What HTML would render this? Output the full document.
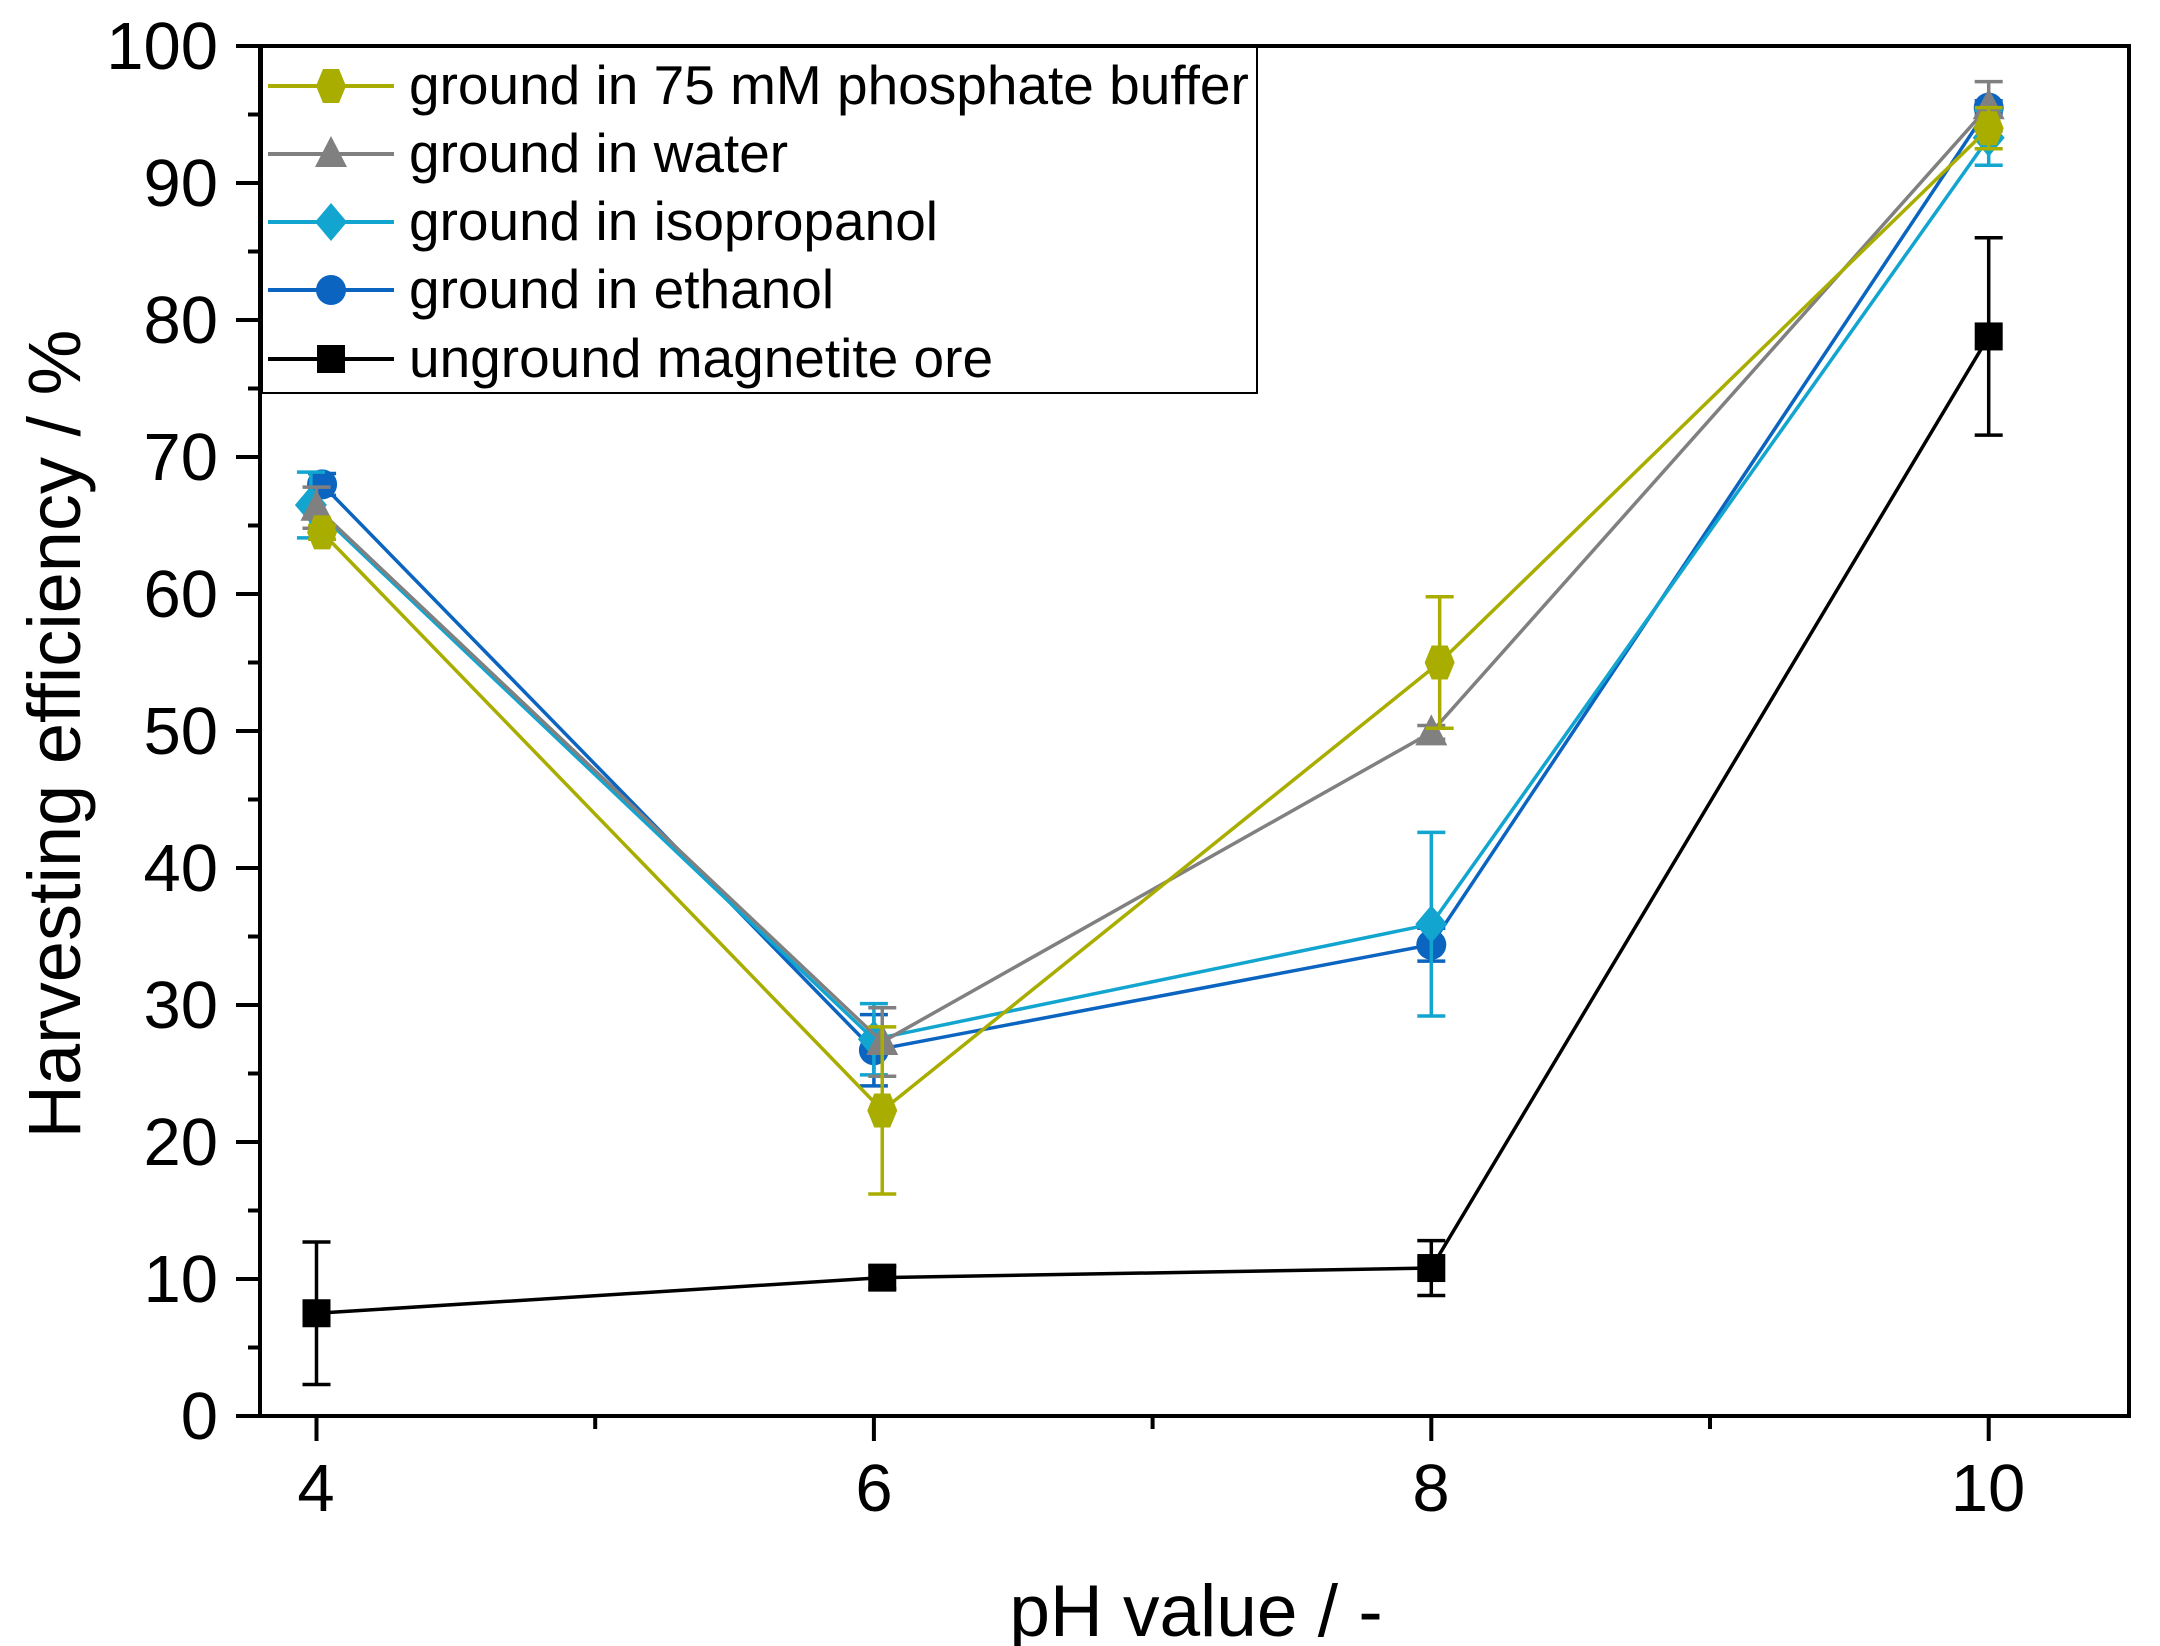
<!DOCTYPE html>
<html><head><meta charset="utf-8"><style>
html,body{margin:0;padding:0;background:#fff;}
svg{display:block;font-family:"Liberation Sans",Arial,sans-serif;}
</style></head><body>
<svg id="s" width="2160" height="1646" viewBox="0 0 2160 1646" xmlns="http://www.w3.org/2000/svg">
<rect width="2160" height="1646" fill="#fff"/>
<g id="plot"></g>
<g font-size="67" fill="#000" text-anchor="end">
<text x="218" y="1439">0</text>
<text x="218" y="1302">10</text>
<text x="218" y="1165">20</text>
<text x="218" y="1028">30</text>
<text x="218" y="891">40</text>
<text x="218" y="754">50</text>
<text x="218" y="617">60</text>
<text x="218" y="480">70</text>
<text x="218" y="343">80</text>
<text x="218" y="206">90</text>
<text x="218" y="69">100</text>
</g>
<g font-size="67" fill="#000" text-anchor="middle">
<text x="316" y="1511">4</text>
<text x="874" y="1511">6</text>
<text x="1431" y="1511">8</text>
<text x="1988" y="1511">10</text>
</g>
<text x="1196" y="1636" font-size="73" text-anchor="middle">pH value / -</text>
<text transform="translate(80,734) rotate(-90)" font-size="74" text-anchor="middle">Harvesting efficiency / %</text>
<rect x="262" y="46" width="995" height="347" fill="#fff" stroke="#000" stroke-width="2"/>
<g id="leg"></g>
<g font-size="55" fill="#000">
<text x="409" y="104">ground in 75 mM phosphate buffer</text>
<text x="409" y="172">ground in water</text>
<text x="409" y="240">ground in isopropanol</text>
<text x="409" y="308">ground in ethanol</text>
<text x="409" y="377">unground magnetite ore</text>
</g>
<g id="axes"></g>
</svg>
<script>
const NS="http://www.w3.org/2000/svg";
function el(p,t,a){const e=document.createElementNS(NS,t);for(const k in a)e.setAttribute(k,a[k]);p.appendChild(e);return e;}
const X=p=>316.5+(p-4)*278.7, Y=v=>1416-v*13.7;
const plot=document.getElementById('plot'),axes=document.getElementById('axes'),leg=document.getElementById('leg');
const series=[
 {c:'#000000',m:'sq',d:[[4,7.5,5.2],[6.03,10.1,0.8],[8,10.8,2],[10,78.8,7.2]]},
 {c:'#0a64c0',m:'ci',d:[[4.02,68,0.8],[6,26.7,2.6],[8,34.4,1.2],[10,95.5,0.5]]},
 {c:'#12a5cf',m:'di',d:[[3.98,66.5,2.4],[6,27.5,2.6],[8,35.9,6.7],[10,93.3,2]]},
 {c:'#808080',m:'tr',d:[[4,66.3,1.5],[6.03,27.3,2.5],[8,49.9,0.5],[10,95.6,1.8]]},
 {c:'#a8ad00',m:'hx',d:[[4.02,64.5,0.5],[6.03,22.3,6.1],[8.03,55,4.8],[10,94,1.5]]}
];
function marker(g,m,x,y,c){
 if(m=='sq')el(g,'rect',{x:x-14,y:y-14,width:28,height:28,fill:c});
 else if(m=='ci')el(g,'circle',{cx:x,cy:y,r:15,fill:c});
 else if(m=='di')el(g,'polygon',{points:`${x},${y-19} ${x+16},${y} ${x},${y+19} ${x-16},${y}`,fill:c});
 else if(m=='tr')el(g,'polygon',{points:`${x},${y-18} ${x+16},${y+13} ${x-16},${y+13}`,fill:c});
 else el(g,'polygon',{points:`${x-8},${y-17} ${x+8},${y-17} ${x+15},${y} ${x+8},${y+17} ${x-8},${y+17} ${x-15},${y}`,fill:c});
}
series.forEach(s=>{
 el(plot,'polyline',{points:s.d.map(d=>X(d[0])+','+Y(d[1])).join(' '),fill:'none',stroke:s.c,'stroke-width':3.5});
 s.d.forEach(d=>{const x=X(d[0]);const y1=Y(d[1]+d[2]),y2=Y(d[1]-d[2]);
  el(plot,'line',{x1:x,x2:x,y1:y1,y2:y2,stroke:s.c,'stroke-width':3.5});
  el(plot,'line',{x1:x-14,x2:x+14,y1:y1,y2:y1,stroke:s.c,'stroke-width':3.5});
  el(plot,'line',{x1:x-14,x2:x+14,y1:y2,y2:y2,stroke:s.c,'stroke-width':3.5});
 });
 s.d.forEach(d=>marker(plot,s.m,X(d[0]),Y(d[1]),s.c));
});
const lg=[['#a8ad00','hx',86],['#808080','tr',154],['#12a5cf','di',222],['#0a64c0','ci',290],['#000000','sq',359]];
lg.forEach(l=>{el(leg,'line',{x1:268,x2:394,y1:l[2],y2:l[2],stroke:l[0],'stroke-width':4});marker(leg,l[1],331,l[2],l[0]);});
el(axes,'rect',{x:260,y:46,width:1869,height:1370,fill:'none',stroke:'#000','stroke-width':4});
for(let v=0;v<=100;v+=5){const y=Y(v);el(axes,'line',{x1:v%10?248:236,x2:260,y1:y,y2:y,stroke:'#000','stroke-width':4});}
for(let p=4;p<=10;p++){const x=X(p);el(axes,'line',{x1:x,x2:x,y1:1416,y2:p%2?1429:1441,stroke:'#000','stroke-width':4});}
</script>
</body></html>
